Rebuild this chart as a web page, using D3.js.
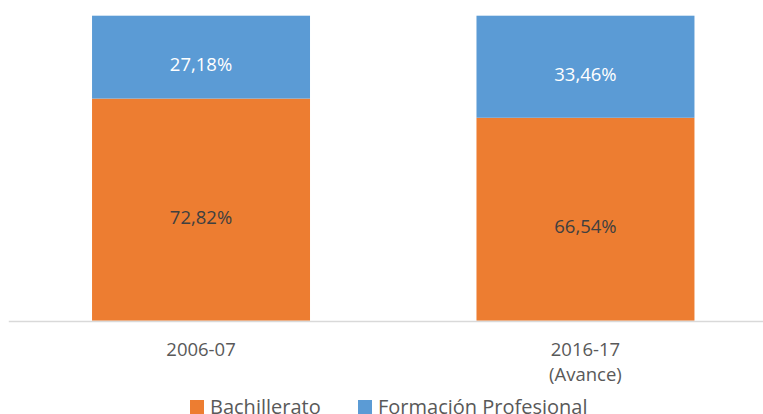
<!DOCTYPE html>
<html>
<head>
<meta charset="utf-8">
<script src="https://cdn.jsdelivr.net/npm/d3@7/dist/d3.min.js"></script>
<style>
  html, body { margin: 0; padding: 0; background: #fff; }
  svg { display: block; font-family: "Open Sans", "Noto Sans", sans-serif; }
</style>
</head>
<body>
<svg id="chart" width="763" height="414"></svg>
<script>
// Share of students by type of post-compulsory secondary education
const categories = ["2006-07", "2016-17\n(Avance)"];
const bachillerato = [72.82, 66.54];
const formacionProfesional = [27.18, 33.46];
const seriesNames = ["Bachillerato", "Formación Profesional"];
const seriesColors = ["#ED7D31", "#5B9BD5"];
const labelColors = ["#404040", "#FFFFFF"];

const W = 763, H = 414;
const plotTop = 15.7, plotBottom = 320.7;

const svg = d3.select("#chart");

const rows = categories.map((c, i) => ({
  cat: c,
  "Bachillerato": bachillerato[i],
  "Formación Profesional": formacionProfesional[i]
}));

const stack = d3.stack().keys(seriesNames);
const layers = stack(rows);

const x = d3.scaleBand()
  .domain(categories)
  .range([8.8, 777.7])
  .paddingInner(0.433)
  .paddingOuter(0.2165);

const y = d3.scaleLinear().domain([0, 100]).range([plotBottom, plotTop]);

const fmt = v => v.toFixed(2).replace(".", ",") + "%";

// bars
const g = svg.append("g");
layers.forEach((layer, li) => {
  g.selectAll(null)
    .data(layer)
    .enter()
    .append("rect")
    .attr("x", d => x(d.data.cat))
    .attr("width", x.bandwidth())
    .attr("y", d => y(d[1]))
    .attr("height", d => y(d[0]) - y(d[1]))
    .attr("fill", seriesColors[li]);
});

// value labels
layers.forEach((layer, li) => {
  g.selectAll(null)
    .data(layer)
    .enter()
    .append("text")
    .attr("x", d => x(d.data.cat) + x.bandwidth() / 2)
    .attr("y", d => (y(d[0]) + y(d[1])) / 2 + 14)
    .attr("text-anchor", "middle")
    .attr("font-size", 18.5)
    .attr("fill", labelColors[li])
    .text(d => fmt(d[1] - d[0]));
});

// category axis line
svg.append("line")
  .attr("x1", x.range()[0]).attr("x2", x.range()[1])
  .attr("y1", 321.5).attr("y2", 321.5)
  .attr("stroke", "#D9D9D9")
  .attr("stroke-width", 1.5);

// category labels
const catLabels = svg.append("g")
  .selectAll("text")
  .data(categories)
  .enter()
  .append("text")
  .attr("text-anchor", "middle")
  .attr("font-size", 18.5)
  .attr("fill", "#595959");
catLabels.each(function(c) {
  const t = d3.select(this);
  c.split("\n").forEach((line, i) => {
    t.append("tspan")
      .attr("x", x(c) + x.bandwidth() / 2)
      .attr("y", 355.5 + i * 25.5)
      .text(line);
  });
});

// legend
const legendX = [190, 358];
const legend = svg.append("g");
seriesNames.forEach((name, i) => {
  legend.append("rect")
    .attr("x", legendX[i]).attr("y", 400)
    .attr("width", 14).attr("height", 14)
    .attr("fill", seriesColors[i]);
  legend.append("text")
    .attr("x", legendX[i] + 20).attr("y", 414)
    .attr("font-size", 20)
    .attr("fill", "#595959")
    .text(name);
});
</script>
</body>
</html>
